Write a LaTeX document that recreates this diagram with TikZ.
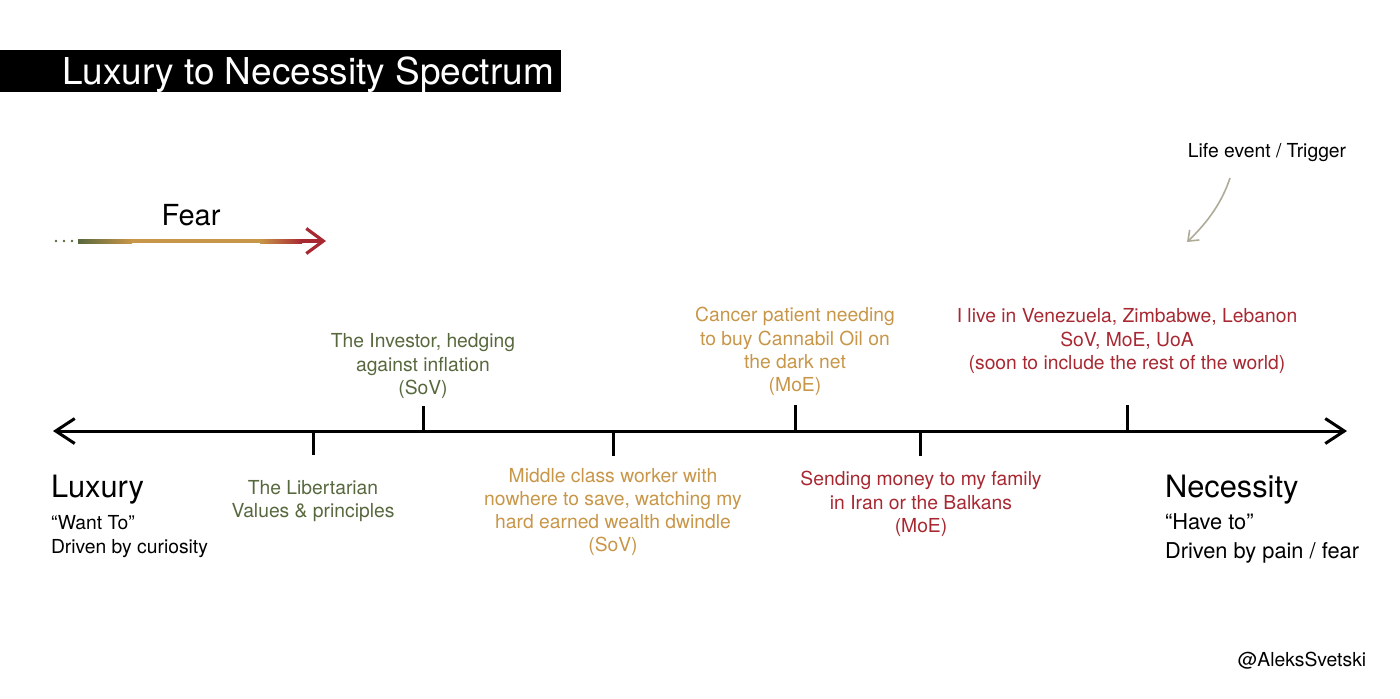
\documentclass[tikz,border=0pt]{standalone}
\usepackage{fontspec}
\setmainfont{TeX Gyre Heros}
\usetikzlibrary{arrows.meta}
\usetikzlibrary{positioning}
\definecolor{leafgreen}{RGB}{88,104,62}
\definecolor{goldtan}{RGB}{200,150,72}
\definecolor{rustred}{RGB}{168,40,50}
\definecolor{triggergray}{RGB}{176,170,152}

\begin{document}
\begin{tikzpicture}[x=0.5pt,y=-0.5pt,
  every node/.style={inner sep=0pt, outer sep=0pt},
  item/.style={align=center, font=\fontsize{9.65}{11.6}\selectfont},
  side/.style={align=left, anchor=west},
  tickline/.style={line width=1.5pt}]

\useasboundingbox (0,0) rectangle (1400,698);

%---------------------------------------
% Title bar
%---------------------------------------
\fill[black] (0,50) rectangle (561,92);
\node[anchor=base, text=white, font=\fontsize{18.5}{22}\selectfont] (title) at (308,84)
  {Luxury to Necessity Spectrum};

%---------------------------------------
% Fear arrow
%---------------------------------------
\node[font=\fontsize{14.5}{17}\selectfont] (fear) at (191,215) {Fear};
\foreach \dx in {56,64,72}
  \fill[leafgreen] (\dx,241) circle (1.4);
\fill[goldtan] (130,239) rectangle (262,243);
\shade[left color=leafgreen, right color=goldtan] (78,239) rectangle (132,243);
\shade[left color=goldtan, right color=rustred] (260,239) rectangle (302,243);
\coordinate (fearmid) at (301,241);
\coordinate (feartip) at (326,241);
\draw[rustred, line width=1.6pt, -{Straight Barb[length=8.5pt,width=12.5pt]}] (fearmid) -- (feartip);

%---------------------------------------
% Trigger
%---------------------------------------
\node[item] (trigger) at (1267,153) {Life event / Trigger};
\coordinate (trigstart) at (1230,178);
\coordinate (trigend) at (1187,242);
\draw[triggergray, line width=0.8pt, -{Straight Barb[length=4.5pt,width=7pt]}]
  (trigstart) .. controls (1222,202) and (1208,222) .. (trigend);

%---------------------------------------
% Spectrum axis
%---------------------------------------
\coordinate (luxend) at (53,431);
\coordinate (necend) at (1347,431);
\draw[line width=1.5pt, {Straight Barb[length=9.5pt,width=12.5pt]}-{Straight Barb[length=9.5pt,width=12.5pt]}]
  (luxend) -- (necend);

\foreach \tx/\ty [count=\i] in {313/455,423/406,613/456,795/405,920/456,1127/405} {
  \coordinate (tick\i) at (\tx,431);
  \coordinate (tickend\i) at (\tx,\ty);
  \draw[tickline] (tick\i) -- (tickend\i);
}

%---------------------------------------
% Ends of the spectrum
%---------------------------------------
\node[side, font=\fontsize{15.4}{18}\selectfont] (luxury) at (51,490) {Luxury};
\node[side, font=\fontsize{9.65}{12}\selectfont] (luxwhy) at (51,537)
  {“Want To”\\Driven by curiosity};

\node[side, font=\fontsize{15.4}{18}\selectfont] (necessity) at (1165,490) {Necessity};
\node[side, font=\fontsize{10.9}{14.5}\selectfont] (necwhy) at (1165,538)
  {“Have to”\\Driven by pain / fear};

%---------------------------------------
% Use cases
%---------------------------------------
\node[item, text=leafgreen] (libertarian) at (313,501)
  {The Libertarian\\Values \& principles};
\node[item, text=leafgreen] (investor) at (423,366)
  {The Investor, hedging\\against inflation\\(SoV)};
\node[item, text=goldtan] (worker) at (613,512)
  {Middle class worker with\\nowhere to save, watching my\\hard earned wealth dwindle\\(SoV)};
\node[item, text=goldtan] (patient) at (795,351.5)
  {Cancer patient needing\\to buy Cannabil Oil on\\the dark net\\(MoE)};
\node[item, text=rustred] (family) at (921,504)
  {Sending money to my family\\in Iran or the Balkans\\(MoE)};
\node[item, text=rustred] (venezuela) at (1127,341)
  {I live in Venezuela, Zimbabwe, Lebanon\\SoV, MoE, UoA\\(soon to include the rest of the world)};

\node[item] (handle) at (1302,661) {@AleksSvetski};

\end{tikzpicture}
\end{document}
